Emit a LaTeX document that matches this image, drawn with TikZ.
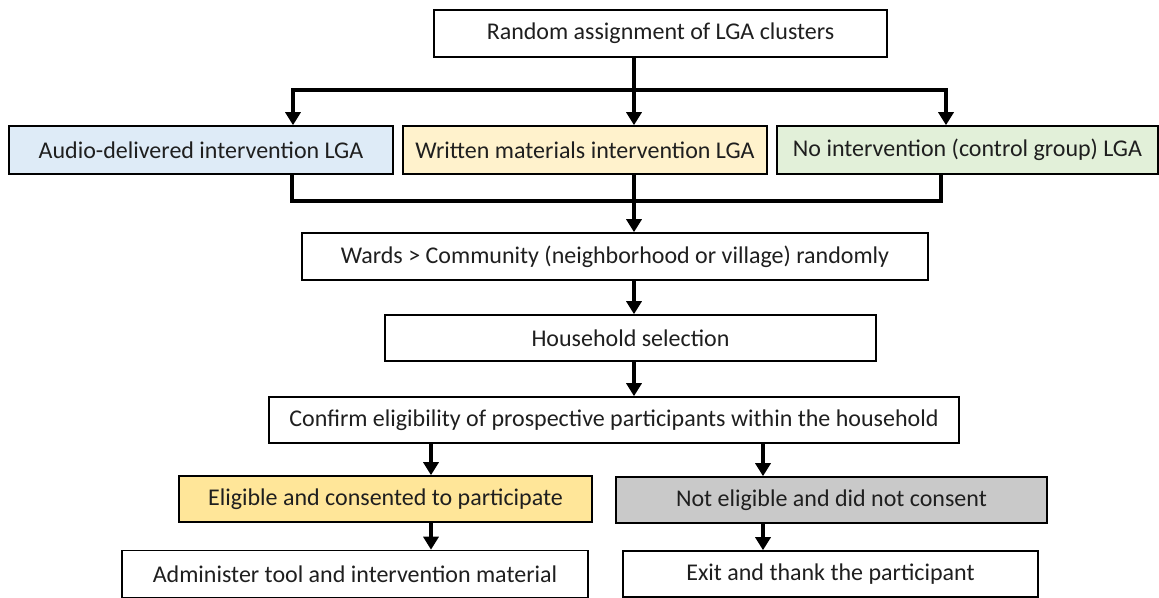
\documentclass[tikz,border=0pt]{standalone}
\usepackage{fontspec}
\setmainfont{Carlito}
\usetikzlibrary{arrows.meta}
\definecolor{audioblue}{HTML}{DEEBF7}
\definecolor{writtenyellow}{HTML}{FFF2CC}
\definecolor{controlgreen}{HTML}{E2F0D9}
\definecolor{eligibleyellow}{HTML}{FFE699}
\definecolor{notgrey}{HTML}{C9C9C9}
\tikzset{
  box/.style={draw=black, line width=1.6pt, fill=white, inner sep=0pt,
    font=\fontsize{24}{28}\selectfont, text=black!88},
  link/.style={line width=4.5pt, draw=black},
  arr/.style={link, -{Triangle[width=15pt,length=13pt]}},
}
\begin{document}
\begin{tikzpicture}[x=1pt,y=-1pt]
\useasboundingbox (0,0) rectangle (1159,597);
% nodes
\node[box, minimum width=453pt, minimum height=47pt] (top) at (660.5,33.5) {Random assignment of LGA clusters};
\node[box, fill=audioblue, minimum width=384pt, minimum height=48pt] (audio) at (201,150) {Audio-delivered intervention LGA};
\node[box, fill=writtenyellow, minimum width=364pt, minimum height=48pt] (written) at (585,150) {Written materials intervention LGA};
\node[box, fill=controlgreen, minimum width=381pt, minimum height=48pt] (noint) at (967.5,150) {No intervention (control group) LGA};
\node[box, minimum width=626pt, minimum height=47pt] (wards) at (615,256.5) {Wards > Community (neighborhood or village) randomly};
\node[box, minimum width=491pt, minimum height=46pt] (house) at (630.5,338) {Household selection};
\node[box, minimum width=690pt, minimum height=46pt] (confirm) at (614,420) {Confirm eligibility of prospective participants within the household};
\node[box, fill=eligibleyellow, minimum width=413pt, minimum height=46pt] (elig) at (385.5,499) {Eligible and consented to participate};
\node[box, fill=notgrey, minimum width=431pt, minimum height=46pt] (notelig) at (831.5,500) {Not eligible and did not consent};
\node[box, minimum width=466pt, minimum height=47pt] (admin) at (355,574) {Administer tool and intervention material};
\node[box, minimum width=415pt, minimum height=46pt] (exit) at (830.5,574) {Exit and thank the participant};
% helper coordinates
\coordinate (mx) at (634,0);
\coordinate (ax) at (293,0);
\coordinate (nx) at (946,0);
\coordinate (ax2) at (292,0);
\coordinate (nx2) at (941,0);
\coordinate (barA) at (0,90);
\coordinate (barB) at (0,201);
\coordinate (lx) at (431,0);
\coordinate (rx) at (763,0);
% connectors
\draw[arr] (top.south -| mx) -- (barA -| mx) -| (audio.north -| ax);
\draw[arr] (barA -| mx) -| (noint.north -| nx);
\draw[arr] (barA -| mx) -- (written.north -| mx);
\draw[link] (audio.south -| ax2) -- (barB -| ax2) -- (barB -| nx2) -- (noint.south -| nx2);
\draw[link] (written.south -| mx) -- (barB -| mx);
\draw[arr] (barB -| mx) -- (wards.north -| mx);
\draw[arr] (wards.south -| mx) -- (house.north -| mx);
\draw[arr] (house.south -| mx) -- (confirm.north -| mx);
\draw[arr] (confirm.south -| lx) -- (elig.north -| lx);
\draw[arr] (confirm.south -| rx) -- (notelig.north -| rx);
\draw[arr] (elig.south -| lx) -- (admin.north -| lx);
\draw[arr] (notelig.south -| rx) -- (exit.north -| rx);
\end{tikzpicture}
\end{document}
